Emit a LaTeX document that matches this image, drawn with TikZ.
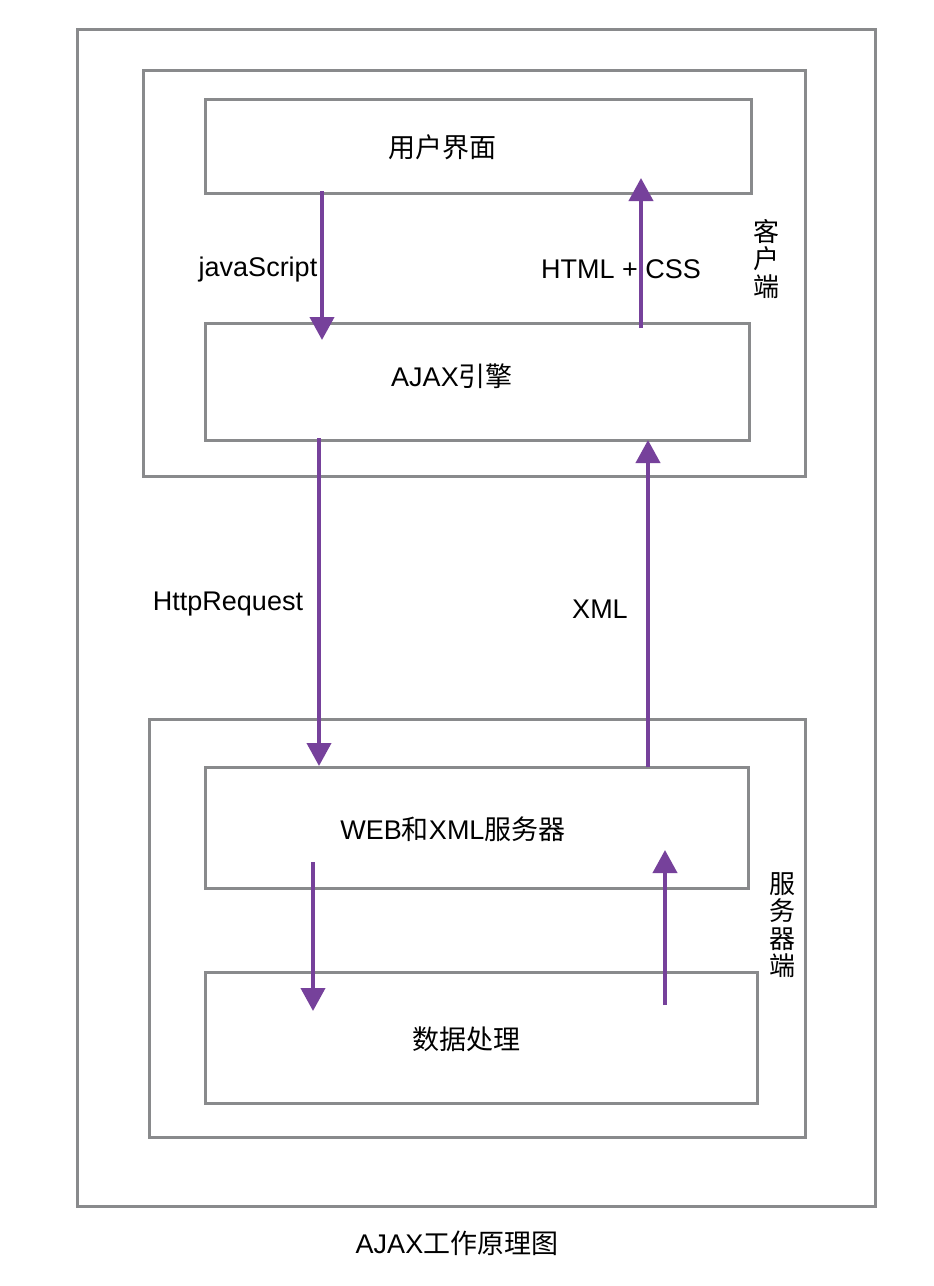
\documentclass[tikz,border=0pt]{standalone}
\usepackage{fontspec}
\setmainfont{Liberation Sans}
\newfontfamily\cjk{Noto Sans CJK SC}
\usetikzlibrary{arrows.meta}
\definecolor{boxgray}{HTML}{898A8C}
\definecolor{arrpurple}{HTML}{76419B}
\begin{document}
\begin{tikzpicture}[x=1pt,y=-1pt,
  box/.style={draw=boxgray,line width=3pt,inner sep=0pt,outer sep=0pt,rectangle},
  txt/.style={font=\fontsize{27}{27}\selectfont,inner sep=0pt,anchor=center},
  vtxt/.style={font=\fontsize{26}{27.5}\selectfont\cjk,inner sep=0pt,align=center},
  flow/.style={draw=arrpurple,line width=4pt,-{Triangle[width=24pt,length=23pt]}}]
\useasboundingbox (0,0) rectangle (934,1286);
\fill[white] (0,0) rectangle (934,1286);
% boxes
\node[box,minimum width=798pt,minimum height=1177pt] (outer) at (476,617.5) {};
\node[box,minimum width=662pt,minimum height=406pt] (client) at (474,273) {};
\node[box,minimum width=546pt,minimum height=94pt] (ui) at (478,146) {};
\node[box,minimum width=544pt,minimum height=117pt] (ajax) at (477,381.5) {};
\node[box,minimum width=656pt,minimum height=418pt] (server) at (477,928) {};
\node[box,minimum width=543pt,minimum height=121pt] (web) at (476.5,827.5) {};
\node[box,minimum width=552pt,minimum height=131pt] (data) at (481,1037.5) {};
% texts
\node[txt] (tui) at (442,147) {\cjk 用户界面};
\node[txt] (tajax) at (452,376) {AJAX{\cjk 引擎}};
\node[txt] (tweb) at (453,829) {WEB{\cjk 和}XML{\cjk 服务器}};
\node[txt] (tdata) at (466,1039) {\cjk 数据处理};
\node[txt] (tjs) at (258,270) {javaScript};
\node[txt] (thtml) at (621,269) {HTML + CSS};
\node[txt] (thttp) at (228,604) {HttpRequest};
\node[txt] (txml) at (600,609) {XML};
\node[txt] (ttitle) at (457,1243) {AJAX{\cjk 工作原理图}};
\node[vtxt] (tclient) at (766,259) {客\\户\\端};
\node[vtxt] (tserver) at (782,925) {服\\务\\器\\端};
% arrow coordinates
\coordinate (a1s) at (322,191); \coordinate (a1e) at (322,340);
\coordinate (a2s) at (641,328); \coordinate (a2e) at (641,178);
\coordinate (a3s) at (319,438); \coordinate (a3e) at (319,766);
\coordinate (a4s) at (648,767); \coordinate (a4e) at (648,440);
\coordinate (a5s) at (313,862); \coordinate (a5e) at (313,1011);
\coordinate (a6s) at (665,1005); \coordinate (a6e) at (665,850);
\draw[flow] (a1s) -- (a1e);
\draw[flow] (a2s) -- (a2e);
\draw[flow] (a3s) -- (a3e);
\draw[flow] (a4s) -- (a4e);
\draw[flow] (a5s) -- (a5e);
\draw[flow] (a6s) -- (a6e);
\end{tikzpicture}
\end{document}
